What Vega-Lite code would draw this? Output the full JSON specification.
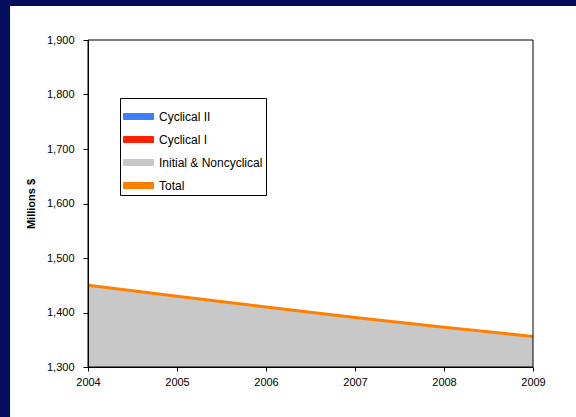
{
  "$schema": "https://vega.github.io/schema/vega-lite/v6.json",
  "width": 445,
  "height": 327,
  "autosize": {"type": "none"},
  "padding": {"left": 88, "top": 40, "right": 43, "bottom": 50},
  "background": "#040e5c",
  "config": {"view": {"stroke": null}, "font": "Liberation Sans"},
  "data": {
    "values": [
      {"year": 2004, "series": "Initial & Noncyclical", "value": 1450},
      {"year": 2005, "series": "Initial & Noncyclical", "value": 1430},
      {"year": 2006, "series": "Initial & Noncyclical", "value": 1410},
      {"year": 2007, "series": "Initial & Noncyclical", "value": 1391},
      {"year": 2008, "series": "Initial & Noncyclical", "value": 1373},
      {"year": 2009, "series": "Initial & Noncyclical", "value": 1356},
      {"year": 2004, "series": "Cyclical I", "value": 0},
      {"year": 2005, "series": "Cyclical I", "value": 0},
      {"year": 2006, "series": "Cyclical I", "value": 0},
      {"year": 2007, "series": "Cyclical I", "value": 0},
      {"year": 2008, "series": "Cyclical I", "value": 0},
      {"year": 2009, "series": "Cyclical I", "value": 0},
      {"year": 2004, "series": "Cyclical II", "value": 0},
      {"year": 2005, "series": "Cyclical II", "value": 0},
      {"year": 2006, "series": "Cyclical II", "value": 0},
      {"year": 2007, "series": "Cyclical II", "value": 0},
      {"year": 2008, "series": "Cyclical II", "value": 0},
      {"year": 2009, "series": "Cyclical II", "value": 0},
      {"year": 2004, "series": "Total", "value": 1450},
      {"year": 2005, "series": "Total", "value": 1430},
      {"year": 2006, "series": "Total", "value": 1410},
      {"year": 2007, "series": "Total", "value": 1391},
      {"year": 2008, "series": "Total", "value": 1373},
      {"year": 2009, "series": "Total", "value": 1356}
    ]
  },
  "layer": [
    {
      "data": {"values": [{}]},
      "mark": {"type": "rect", "fill": "white", "clip": false},
      "encoding": {
        "x": {"datum": 2003.124, "type": "quantitative", "scale": {"domain": [2004, 2009], "nice": false, "zero": false}},
        "x2": {"datum": 2012},
        "y": {"datum": 1962.5, "type": "quantitative", "scale": {"domain": [1300, 1900], "nice": false, "zero": false}},
        "y2": {"datum": 1100}
      }
    },
    {
      "transform": [{"filter": "datum.series !== 'Total'"}],
      "mark": {"type": "area", "clip": true},
      "encoding": {
        "x": {
          "field": "year", "type": "quantitative",
          "scale": {"domain": [2004, 2009], "nice": false, "zero": false},
          "axis": {"values": [2004, 2005, 2006, 2007, 2008, 2009], "format": "d", "title": null, "grid": false, "tickSize": 4, "labelPadding": 5, "labelFontSize": 11, "labelColor": "black", "domainColor": "black", "tickColor": "black", "labelFlush": false, "zindex": 1}
        },
        "y": {
          "field": "value", "type": "quantitative", "stack": "zero",
          "scale": {"domain": [1300, 1900], "nice": false, "zero": false},
          "axis": {"values": [1300, 1400, 1500, 1600, 1700, 1800, 1900], "format": ",d", "title": "Millions $", "titleFontSize": 11, "titleFontWeight": "bold", "titleColor": "black", "titlePadding": 10, "grid": false, "tickSize": 5, "labelPadding": 9, "labelFontSize": 11, "labelColor": "black", "domainColor": "black", "tickColor": "black", "labelFlush": false, "zindex": 1}
        },
        "color": {
          "field": "series", "type": "nominal",
          "scale": {"domain": ["Cyclical II", "Cyclical I", "Initial & Noncyclical", "Total"], "range": ["#3f7fff", "#ff2200", "#c8c8c8", "#ff8000"]},
          "legend": {
            "orient": "none", "legendX": 32, "legendY": 58, "title": null,
            "labelFontSize": 12, "labelColor": "black", "labelLimit": 300, "labelOffset": 5,
            "symbolSize": 900, "symbolType": "M-1,-0.2H1V0.2H-1Z", "symbolStrokeWidth": 1, "symbolStrokeColor": "#333333",
            "padding": 3, "rowPadding": 1, "fillColor": "white", "strokeColor": "black", "zindex": 1
          }
        },
        "order": {"field": "series", "sort": "descending"}
      }
    },
    {
      "transform": [{"filter": "datum.series === 'Total'"}],
      "mark": {"type": "line", "strokeWidth": 3, "clip": true},
      "encoding": {
        "x": {"field": "year", "type": "quantitative", "scale": {"domain": [2004, 2009], "nice": false, "zero": false}},
        "y": {"field": "value", "type": "quantitative", "scale": {"domain": [1300, 1900], "nice": false, "zero": false}},
        "color": {"field": "series", "type": "nominal", "legend": null}
      }
    },
    {
      "data": {"values": [{}]},
      "mark": {"type": "rect", "filled": false, "stroke": "black", "strokeWidth": 1, "clip": false},
      "encoding": {
        "x": {"datum": 2004, "type": "quantitative"},
        "x2": {"datum": 2009},
        "y": {"datum": 1300, "type": "quantitative"},
        "y2": {"datum": 1900}
      }
    }
  ]
}
